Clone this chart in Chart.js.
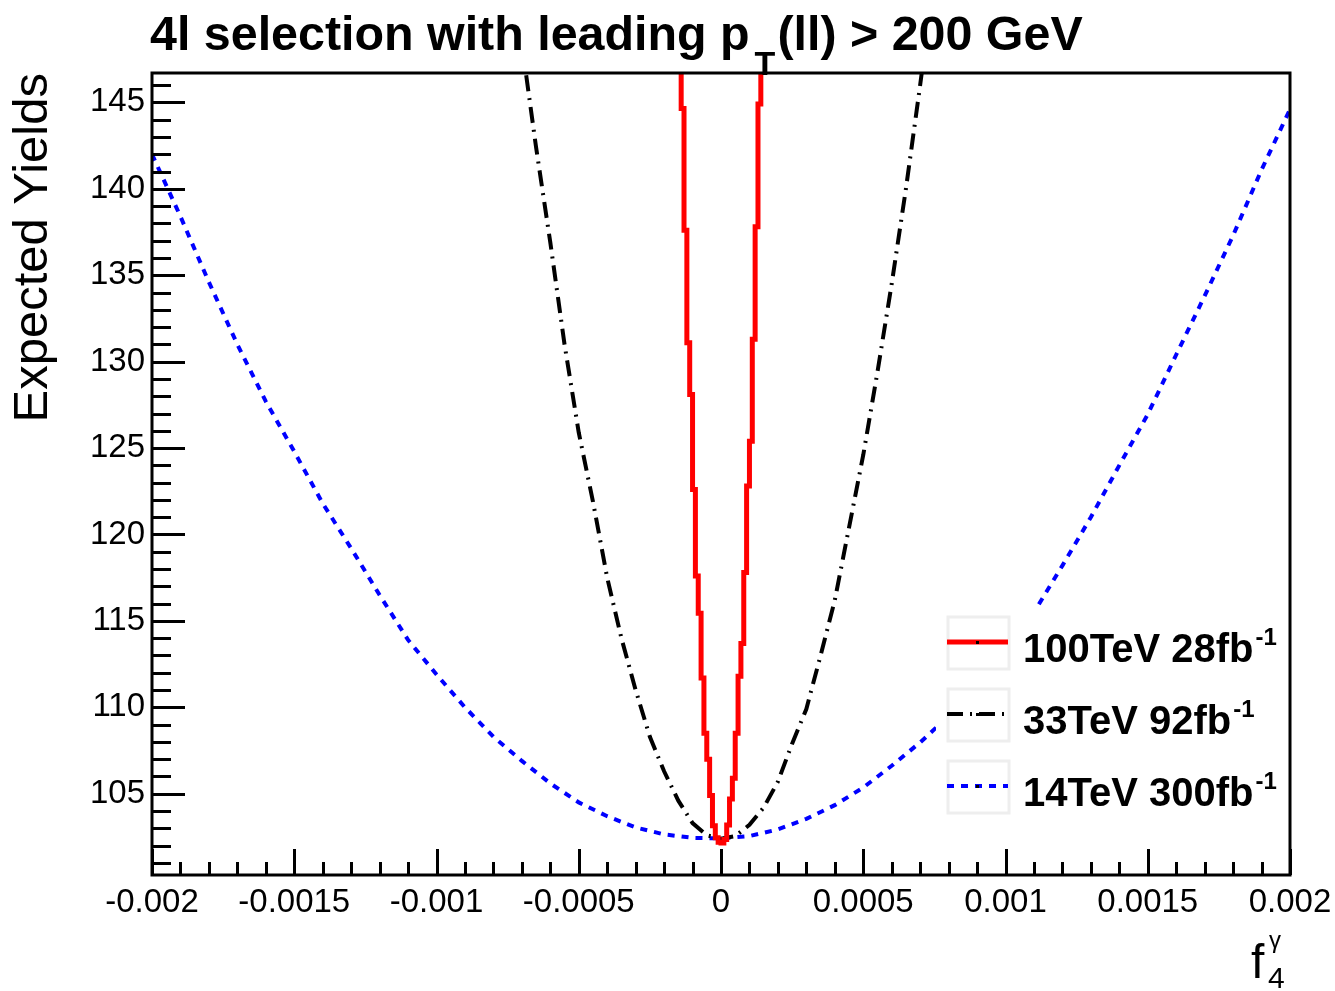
<!DOCTYPE html>
<html lang="en">
<head>
<meta charset="UTF-8">
<title>4l selection - Expected Yields</title>
<script src="https://cdn.jsdelivr.net/npm/chart.js"></script>
<style>
    * { margin: 0; padding: 0; }
    body { background: white; }
    #yields { display: block; }
</style>
</head>
<body>
<canvas id="yields" width="1335" height="991"></canvas>
<script>
// 100TeV 28fb-1 : histogram, bin low edges (width 1e-5) and contents
const redEdges = [-0.00015, -0.00014, -0.00013, -0.00012, -0.00011, -0.0001, -0.00009, -0.00008,
    -0.00007, -0.00006, -0.00005, -0.00004, -0.00003, -0.00002, -0.00001, 0, 0.00001, 0.00002,
    0.00003, 0.00004, 0.00005, 0.00006, 0.00007, 0.00008, 0.00009, 0.0001, 0.00011, 0.00012,
    0.00013, 0.00014, 0.00015];
const redYields = [151.5, 144.65, 137.6, 131.1, 128.1, 122.6, 117.6, 115.45, 111.7, 108.5, 107.0,
    104.9, 103.15, 102.45, 102.2, 102.15, 102.35, 103.2, 104.7, 105.9, 108.5, 111.8, 113.7, 117.8,
    122.8, 125.4, 131.3, 137.8, 144.9, 151.5, 151.5];

// 33TeV 92fb-1
const blackF = [-0.0007, -0.00065, -0.0006, -0.00055, -0.0005, -0.00045, -0.0004, -0.00035, -0.0003,
    -0.00025, -0.0002, -0.00015, -0.0001, -0.00005, 0, 0.00005, 0.0001, 0.00015, 0.0002, 0.00025,
    0.0003, 0.00035, 0.0004, 0.00045, 0.0005, 0.00055, 0.0006, 0.00065, 0.0007, 0.00075];
const blackYields = [148.4, 142.4, 136.9, 131.0, 125.9, 121.9, 117.5, 114.0, 111.0, 108.3, 106.3,
    104.6, 103.3, 102.6, 102.4, 102.55, 103.2, 104.2, 105.7, 107.9, 109.9, 113.0, 116.2, 120.4,
    124.6, 129.4, 134.5, 140.0, 146.0, 152.3];

// 14TeV 300fb-1
const blueF = [-0.002, -0.0019, -0.0018, -0.0017, -0.0016, -0.0015, -0.0014, -0.0013, -0.0012,
    -0.0011, -0.001, -0.0009, -0.0008, -0.0007, -0.0006, -0.0005, -0.0004, -0.0003, -0.0002, -0.0001,
    0, 0.0001, 0.0002, 0.0003, 0.0004, 0.0005, 0.0006, 0.0007, 0.0008, 0.0009, 0.001, 0.0011,
    0.0012, 0.0013, 0.0014, 0.0015, 0.0016, 0.0017, 0.0018, 0.0019, 0.002];
const blueYields = [142.0, 138.4, 134.6, 131.0, 127.7, 124.8, 121.8, 119.2, 116.5, 113.9, 111.9,
    110.0, 108.3, 106.9, 105.6, 104.5, 103.7, 103.05, 102.65, 102.45, 102.42, 102.55, 102.94,
    103.55, 104.34, 105.36, 106.62, 107.97, 109.5, 111.3, 113.4, 115.5, 118.2, 121.0, 124.0,
    126.95, 130.4, 133.8, 137.3, 141.1, 144.6];

const xTickValues = [-0.002, -0.0015, -0.001, -0.0005, 0, 0.0005, 0.001, 0.0015, 0.002];
const xTickLabels = ['-0.002', '-0.0015', '-0.001', '-0.0005', '0', '0.0005', '0.001', '0.0015', '0.002'];
const yTickValues = [105, 110, 115, 120, 125, 130, 135, 140, 145];
const yTickLabels = ['105', '110', '115', '120', '125', '130', '135', '140', '145'];

const legendLabels = ['100TeV 28fb', '33TeV 92fb', '14TeV 300fb'];

const FONT = '"Liberation Sans", Arial, Helvetica, sans-serif';

const toPoints = (xs, ys) => xs.map((x, i) => ({ x: x, y: ys[i] }));

// ROOT style: frame, inside ticks, title, legend
const rootStyle = {
    id: 'rootStyle',
    afterDatasetsDraw(chart) {
        const { ctx, chartArea: a, scales: { x, y } } = chart;
        ctx.save();
        ctx.strokeStyle = '#000';
        ctx.lineWidth = 3;
        ctx.lineCap = 'butt';

        // x ticks every 1e-4, major every 5e-4
        for (let i = 0; i <= 40; i++) {
            const px = Math.round(x.getPixelForValue(-0.002 + i * 0.0001)) + 0.5;
            const len = i % 5 === 0 ? 26 : 13;
            ctx.beginPath();
            ctx.moveTo(px, a.bottom);
            ctx.lineTo(px, a.bottom - len);
            ctx.stroke();
        }
        // y ticks every 1, major every 5
        for (let v = 101; v <= 146; v++) {
            const py = Math.round(y.getPixelForValue(v)) + 0.5;
            const len = v % 5 === 0 ? 33 : 19;
            ctx.beginPath();
            ctx.moveTo(a.left, py);
            ctx.lineTo(a.left + len, py);
            ctx.stroke();
        }
        ctx.strokeRect(a.left, a.top, a.right - a.left, a.bottom - a.top);

        // legend
        ctx.fillStyle = '#fff';
        ctx.fillRect(936, 609, 350, 212);
        const rows = [642, 714, 786];
        const styles = [
            { color: '#ff0000', width: 5, dash: [] },
            { color: '#000000', width: 4, dash: [16, 7, 2, 7] },
            { color: '#0000ff', width: 4, dash: [7, 7] }
        ];
        rows.forEach((yc, i) => {
            ctx.setLineDash([]);
            ctx.strokeStyle = '#eeeeee';
            ctx.lineWidth = 3;
            ctx.strokeRect(948, yc - 25, 61, 52);
            const s = styles[i];
            ctx.strokeStyle = s.color;
            ctx.lineWidth = s.width;
            ctx.setLineDash(s.dash);
            ctx.beginPath();
            ctx.moveTo(947, yc);
            ctx.lineTo(1008, yc);
            ctx.stroke();
            ctx.setLineDash([]);
            ctx.fillStyle = '#000';
            ctx.fillRect(976, yc - 1, 3, 3);

            ctx.font = 'bold 40px ' + FONT;
            ctx.textBaseline = 'alphabetic';
            ctx.textAlign = 'left';
            ctx.fillText(legendLabels[i], 1023, yc + 20);
            const w = ctx.measureText(legendLabels[i]).width;
            ctx.font = 'bold 24px ' + FONT;
            ctx.fillText('-1', 1023 + w + 2, yc + 3);
        });
        ctx.restore();
    },
    afterDraw(chart) {
        const ctx = chart.ctx;
        ctx.save();
        ctx.fillStyle = '#000';
        ctx.textAlign = 'left';
        ctx.textBaseline = 'alphabetic';

        // title with subscript T
        ctx.font = 'bold 48.4px ' + FONT;
        const t1 = '4l selection with leading p';
        ctx.fillText(t1, 150, 50);
        let xPos = 150 + ctx.measureText(t1).width + 5;
        ctx.font = 'bold 34px ' + FONT;
        ctx.fillText('T', xPos, 75);
        xPos += ctx.measureText('T').width + 2;
        ctx.font = 'bold 48.4px ' + FONT;
        ctx.fillText('(ll) > 200 GeV', xPos, 50);

        // x axis title f_4^gamma
        ctx.font = '48px ' + FONT;
        ctx.fillText('f', 1251, 978);
        ctx.font = '30px ' + FONT;
        ctx.fillText('4', 1268, 988);
        ctx.font = '24px ' + FONT;
        ctx.fillText('\u03b3', 1269, 948);
        ctx.restore();
    }
};

new Chart(document.getElementById('yields'), {
    type: 'line',
    data: {
        datasets: [
            {
                label: '100TeV 28fb-1',
                data: toPoints(redEdges, redYields),
                borderColor: '#ff0000',
                borderWidth: 5,
                stepped: 'before',
                borderJoinStyle: 'miter',
                pointRadius: 0,
                clip: 0
            },
            {
                label: '33TeV 92fb-1',
                data: toPoints(blackF, blackYields),
                borderColor: '#000000',
                borderWidth: 4,
                borderDash: [16, 7, 2, 7],
                pointRadius: 0,
                clip: 0
            },
            {
                label: '14TeV 300fb-1',
                data: toPoints(blueF, blueYields),
                borderColor: '#0000ff',
                borderWidth: 4,
                borderDash: [7, 7],
                pointRadius: 0,
                clip: 0
            }
        ]
    },
    options: {
        responsive: false,
        animation: false,
        devicePixelRatio: 1,
        layout: { padding: { top: 73, right: 45, bottom: 0, left: 0 } },
        plugins: {
            legend: { display: false },
            tooltip: { enabled: false }
        },
        scales: {
            x: {
                type: 'linear',
                min: -0.002,
                max: 0.002,
                afterBuildTicks: s => { s.ticks = xTickValues.map(v => ({ value: v })); },
                afterFit: s => { s.height = 116; s.paddingLeft = 0; s.paddingRight = 0; },
                grid: { display: false, drawTicks: false },
                border: { display: false },
                ticks: {
                    color: '#000',
                    font: { family: FONT, size: 33 },
                    padding: 8,
                    autoSkip: false,
                    maxRotation: 0,
                    callback: (v, i) => xTickLabels[i]
                }
            },
            y: {
                type: 'linear',
                min: 100.3,
                max: 146.7,
                afterBuildTicks: s => { s.ticks = yTickValues.map(v => ({ value: v })); },
                afterFit: s => { s.width = 152; s.paddingTop = 0; s.paddingBottom = 0; },
                grid: { display: false, drawTicks: false },
                border: { display: false },
                ticks: {
                    color: '#000',
                    font: { family: FONT, size: 33 },
                    padding: 7,
                    autoSkip: false,
                    callback: (v, i) => yTickLabels[i]
                },
                title: {
                    display: true,
                    text: 'Expected Yields',
                    align: 'end',
                    color: '#000',
                    font: { family: FONT, size: 49 },
                    padding: { top: 4, bottom: 0 }
                }
            }
        }
    },
    plugins: [rootStyle]
});
</script>
</body>
</html>
